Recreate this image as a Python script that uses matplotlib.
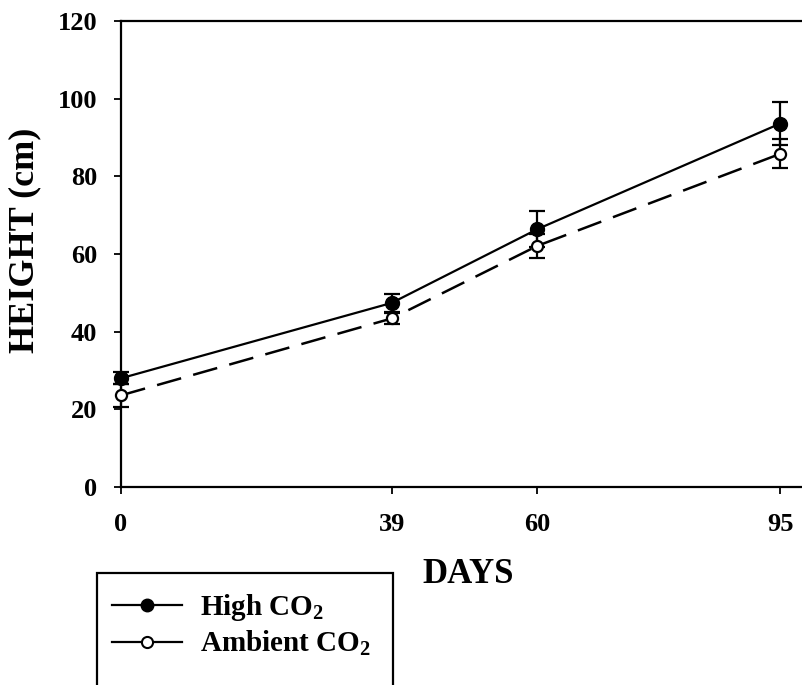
import matplotlib
matplotlib.use("Agg")
import matplotlib.pyplot as plt
from matplotlib.lines import Line2D
from matplotlib.patches import Rectangle

plt.rcParams["font.family"] = ["Liberation Serif", "DejaVu Serif"]
plt.rcParams["font.weight"] = "bold"
plt.rcParams["mathtext.fontset"] = "custom"
plt.rcParams["mathtext.rm"] = "Liberation Serif:bold"
plt.rcParams["mathtext.it"] = "Liberation Serif:bold"
plt.rcParams["mathtext.bf"] = "Liberation Serif:bold"

# data
days = [0, 39, 60, 95]
high_co2 = [28.0, 47.4, 66.4, 93.6]
high_err = [1.6, 2.3, 4.6, 5.6]
amb_co2 = [23.6, 43.4, 62.1, 85.8]
amb_err = [3.0, 1.5, 3.1, 3.7]

fig = plt.figure(figsize=(8.02, 6.85), dpi=100)
ax = fig.add_axes([121/802, 198/685, 694/802, 466/685])

# high CO2: solid line, filled dots
ax.errorbar(days, high_co2, yerr=high_err, color="black", lw=1.6,
            marker="o", ms=10, mfc="black", mec="black",
            capsize=6, capthick=1.6, elinewidth=1.6, zorder=3, clip_on=False)
# ambient CO2: dashed line, open dots
ax.errorbar(days, amb_co2, yerr=amb_err, color="black", lw=1.8,
            ls=(0, (10, 5)), marker="o", ms=8, mfc="white", mec="black",
            mew=1.6, capsize=6, capthick=1.6, elinewidth=1.6, zorder=4,
            clip_on=False)

ax.set_xlim(0, 100)
ax.set_ylim(0, 120)
ax.set_xticks(days)
ax.set_yticks(range(0, 121, 20))
ax.spines["right"].set_visible(False)
for s in ["left", "bottom", "top"]:
    ax.spines[s].set_linewidth(1.6)
ax.tick_params(direction="out", length=5, width=1.3, labelsize=19)
ax.tick_params(axis="y", pad=12)
ax.tick_params(axis="x", pad=14)

ax.set_xlabel("DAYS", fontsize=25, fontweight="bold")
ax.xaxis.set_label_coords(0.5, -0.153)
ax.set_ylabel("HEIGHT (cm)", fontsize=26, fontweight="bold")
ax.yaxis.set_label_coords(-0.115, 0.53)

# legend box (cut off at the bottom, like the original)
fig.patches.append(Rectangle((97/802, -0.05), 296/802, 112/685 + 0.05,
                             transform=fig.transFigure, fill=False,
                             ec="black", lw=1.6))
handles = [
    Line2D([], [], color="black", lw=1.6, marker="o", ms=9, mfc="black"),
    Line2D([], [], color="black", lw=1.6, marker="o", ms=8, mfc="white", mew=1.5),
]
labels = ["High CO$_2$", "Ambient CO$_2$"]
fig.legend(handles, labels, loc="upper left", bbox_to_anchor=(112/802, 93/685),
           frameon=False, fontsize=21, handlelength=2.4, handletextpad=0.6,
           labelspacing=0.2, borderpad=0, borderaxespad=0)

fig.savefig("out.png", dpi=100)
